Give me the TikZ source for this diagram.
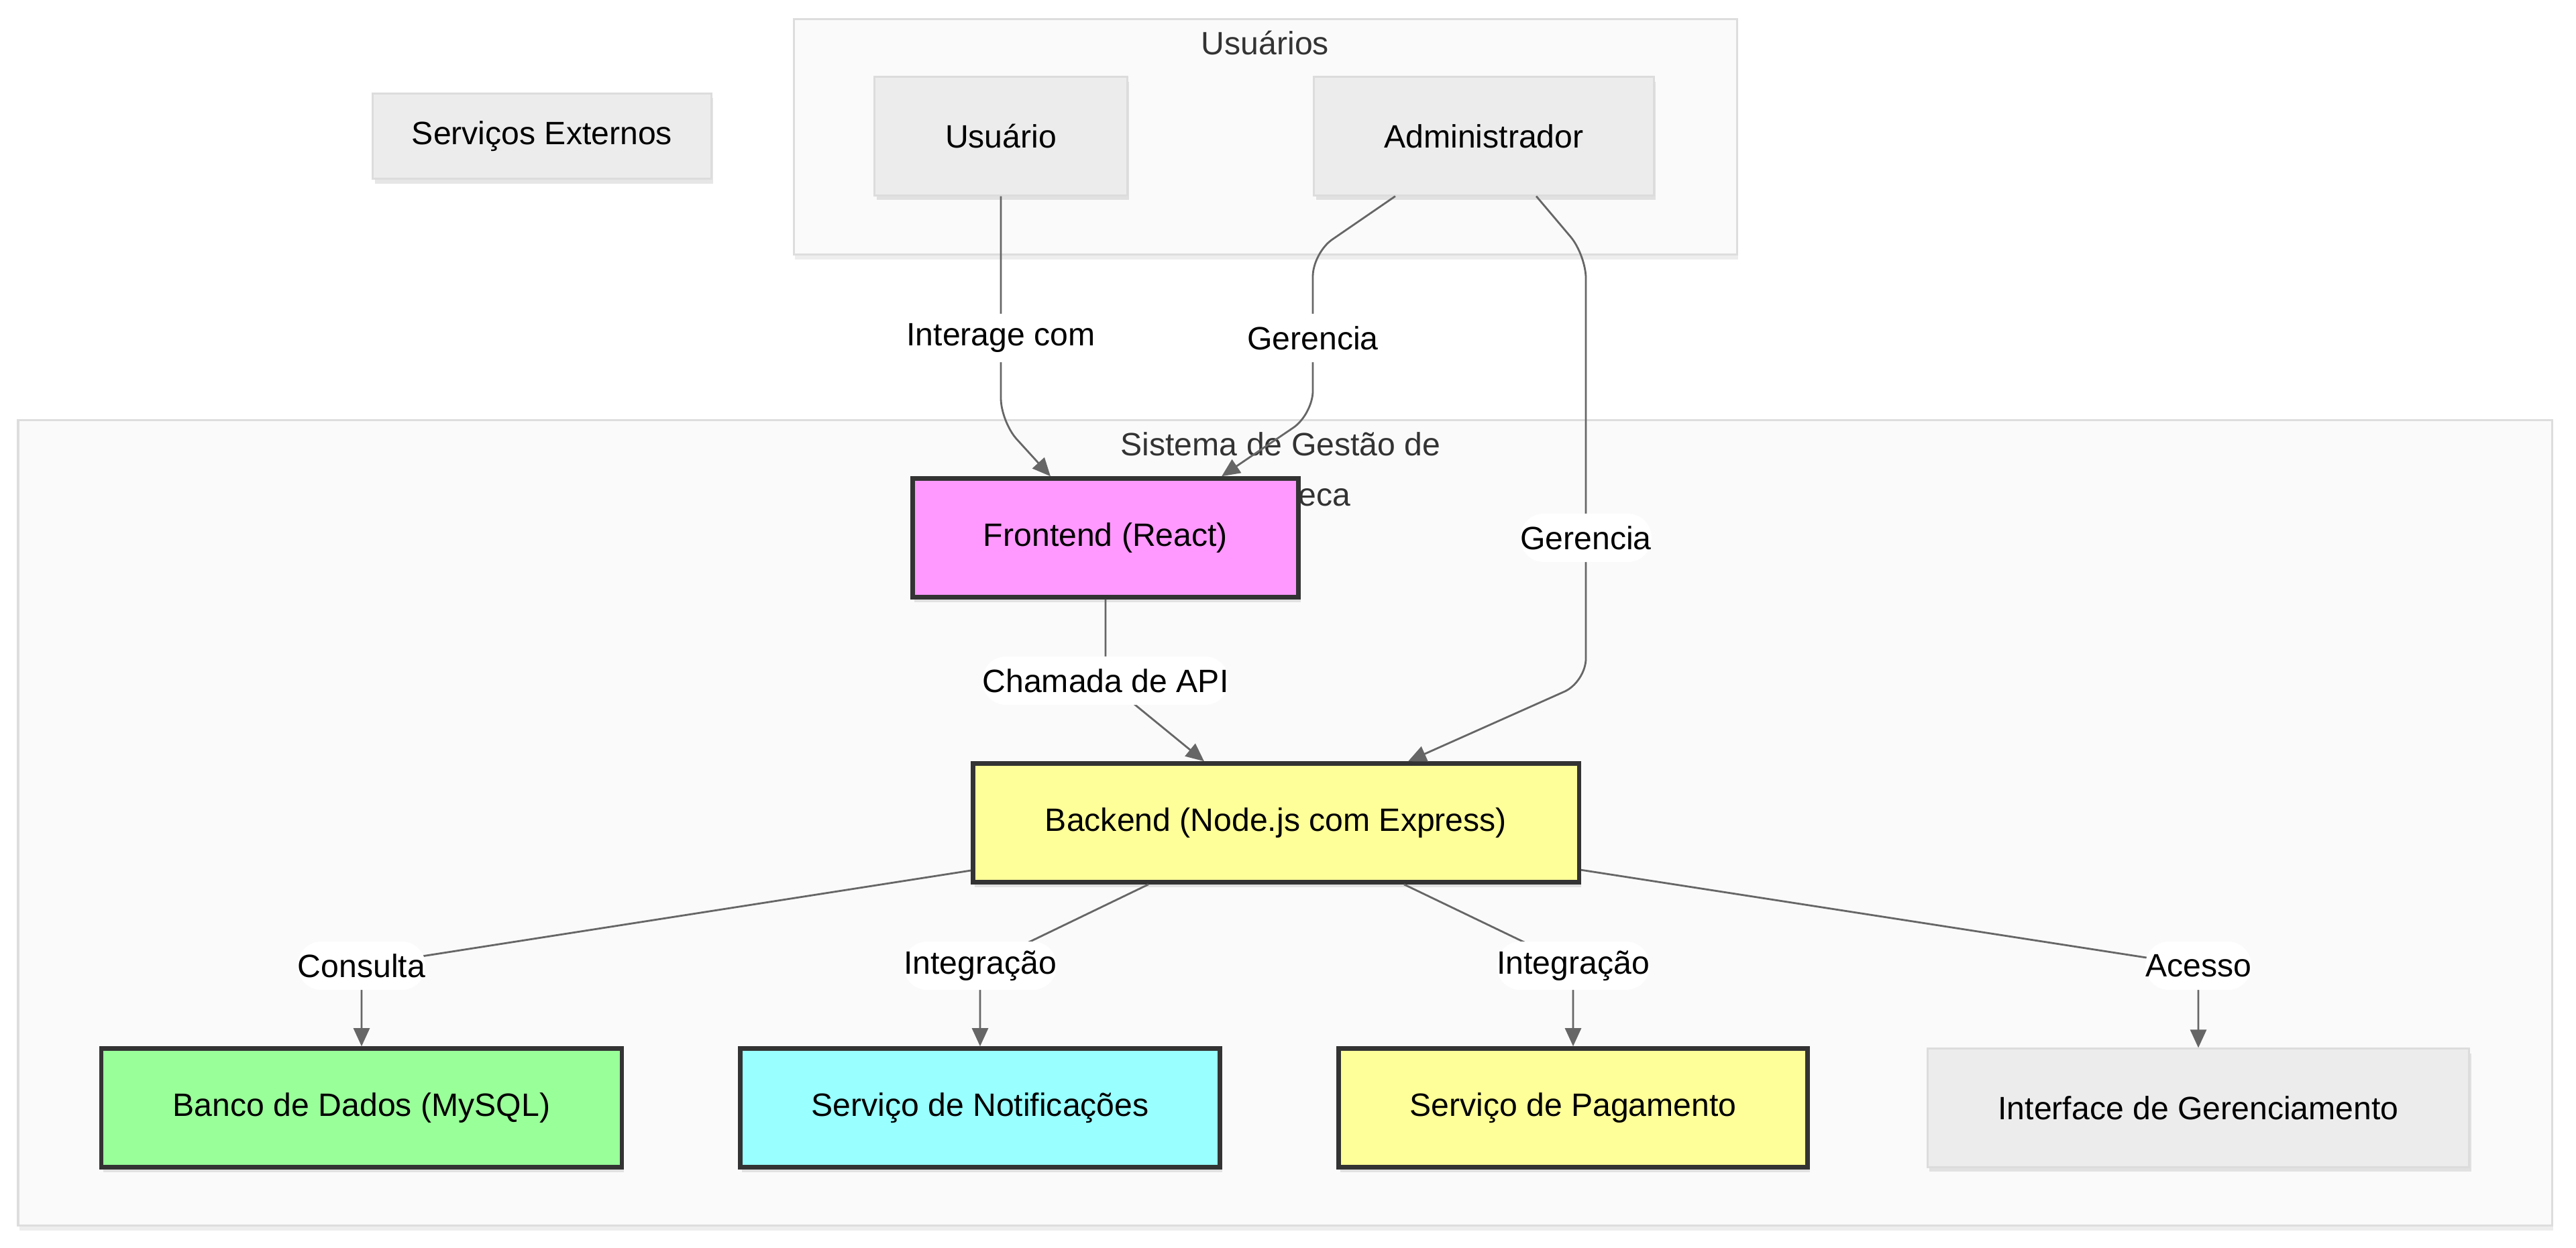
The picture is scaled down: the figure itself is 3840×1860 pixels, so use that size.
\documentclass[tikz,border=0pt]{standalone}
\usepackage{fontspec}
\setmainfont{Liberation Sans}
\usetikzlibrary{arrows.meta,shadows}

\definecolor{edgegray}{HTML}{666666}
\definecolor{darkline}{HTML}{333333}
\definecolor{boxgray}{HTML}{ECECEC}
\definecolor{boxline}{HTML}{DCDCDC}
\definecolor{clusterfill}{HTML}{FAFAFA}
\definecolor{clusterline}{HTML}{DDDDDD}
\definecolor{pinkfill}{HTML}{FF99FF}
\definecolor{yellowfill}{HTML}{FFFF99}
\definecolor{greenfill}{HTML}{99FF99}
\definecolor{cyanfill}{HTML}{99FFFF}

\tikzset{
  txt/.style={font=\fontsize{13.7}{16}\selectfont},
  box/.style={txt, draw=boxline, fill=boxgray, line width=0.03cm, inner sep=0pt,
    minimum height=1.76cm,
    drop shadow={opacity=0.2, shadow xshift=0.03cm, shadow yshift=-0.07cm}},
  thickbox/.style={txt, draw=darkline, line width=0.065cm, inner sep=0pt,
    minimum height=1.77cm,
    drop shadow={opacity=0.2, shadow xshift=0.03cm, shadow yshift=-0.07cm}},
  cluster/.style={draw=clusterline, fill=clusterfill, line width=0.03cm,
    drop shadow={opacity=0.14, shadow xshift=0.02cm, shadow yshift=-0.08cm}},
  title/.style={text=darkline, inner sep=0pt, font=\fontsize{13.7}{21.3}\selectfont},
  conn/.style={draw=edgegray, line width=0.028cm, rounded corners=0.35cm,
    -{Triangle[length=0.27cm,width=0.24cm]}},
  lbl/.style={txt, fill=white, inner sep=0pt, minimum height=0.72cm}
}

\begin{document}
\begin{tikzpicture}[x=0.01cm, y=-0.01cm]
    \useasboundingbox (0,0) rectangle (3840,1860);
\draw[cluster] (1183,28) rectangle (2589,379) ; % Usuarios
\draw[cluster] (27,626) rectangle (3804,1827) ; % Sistema
\node[title] (tUsuarios) at (1886,64) {Usuários};
\node[title, align=center] (tSistema) at (1909,700) {Sistema de Gestão de\\Biblioteca};
\node[box, minimum width=5.04cm, minimum height=1.27cm] (externos) at (808,203) {Serviços Externos};
\node[box, minimum width=3.76cm] (usuario) at (1492,203) {Usuário};
\node[box, minimum width=5.06cm] (admin) at (2212,203) {Administrador};
\node[thickbox, fill=pinkfill, minimum width=5.75cm] (frontend) at (1648,802) {Frontend (React)};
\node[thickbox, fill=yellowfill, minimum width=9.03cm] (backend) at (1902,1227) {Backend (Node.js com Express)};
\node[thickbox, fill=greenfill, minimum width=7.76cm] (banco) at (539,1652) {Banco de Dados (MySQL)};
\node[thickbox, fill=cyanfill, minimum width=7.15cm] (notif) at (1461,1652) {Serviço de Notificações};
\node[thickbox, fill=yellowfill, minimum width=6.99cm] (pagto) at (2345,1652) {Serviço de Pagamento};
\node[box, minimum width=8.07cm] (gerenc) at (3277,1652) {Interface de Gerenciamento};
% label spots and bends
\coordinate (cInterage) at (1492,504);
\coordinate (bInterage) at (1492,629);
\coordinate (bAdmA) at (1957,377);
\coordinate (cGerFront) at (1957,504);
\coordinate (bAdmB) at (1957,618);
\coordinate (bAdmC) at (2364,380);
\coordinate (cGerBack) at (2364,802);
\coordinate (bAdmD) at (2364,1017);
\coordinate (cChamada) at (1648,1015);
\coordinate (cConsulta) at (539,1440);
\coordinate (cNotif) at (1461,1440);
\coordinate (cPagto) at (2345,1440);
\coordinate (cAcesso) at (3277,1440);
\draw[conn] (usuario) -- (cInterage) node[lbl] {Interage com} -- (bInterage) -- ([xshift=-0.82cm]frontend.north) ;
\draw[conn] ([xshift=-1.32cm]admin.south) -- (bAdmA) -- (cGerFront) node[lbl] {Gerencia} -- (bAdmB) -- ([xshift=1.73cm]frontend.north) ;
\draw[conn] ([xshift=0.78cm]admin.south) -- (bAdmC) -- (cGerBack) node[lbl] {Gerencia} -- (bAdmD) -- ([xshift=1.97cm]backend.north) ;
\draw[conn] (frontend) -- (cChamada) node[lbl] {Chamada de API} -- ([xshift=-1.07cm]backend.north) ;
\draw[conn] (backend) -- (cConsulta) node[lbl] {Consulta} -- (banco) ;
\draw[conn] (backend) -- (cNotif) node[lbl] {Integração} -- (notif) ;
\draw[conn] (backend) -- (cPagto) node[lbl] {Integração} -- (pagto) ;
\draw[conn] (backend) -- (cAcesso) node[lbl] {Acesso} -- (gerenc) ;

    \end{tikzpicture}
\end{document}
